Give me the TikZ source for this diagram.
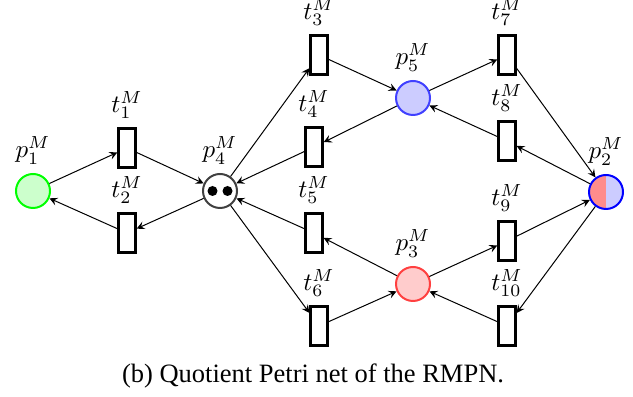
\documentclass[tikz,border=0pt]{standalone}
\usepackage{fontspec}
\newfontfamily\capfont{Liberation Serif}
\usetikzlibrary{arrows}
\begin{document}
\begin{tikzpicture}[x=0.4pt,y=-0.4pt,>=stealth,
	place/.style={circle,draw,line width=0.8pt,inner sep=0pt,minimum size=13.6pt},
	trans/.style={rectangle,draw=black,line width=0.9pt,fill=white,inner sep=0pt,minimum width=6.8pt,minimum height=15.6pt},
	arc/.style={black,thin,->}]
			\useasboundingbox (0,0) rectangle (633,397);
			% places
			\node[place,draw=green,fill=green!20,label=above:{$p_{1}^{M}$}](p1) at (33,191){};
			\node[place,draw=blue,fill=blue!20,label=above:{$p_{2}^{M}$},
				path picture={\fill[red!45] (path picture bounding box.south west) rectangle (path picture bounding box.north);}](p2) at (606,192){};
			\node[place,draw=red!75,fill=red!20,label=above:{$p_{3}^{M}$}](p3) at (413,284){};
			\node[place,draw=black!75,fill=white,label=above:{$p_{4}^{M}$}](p4) at (220,191){};
			\node[place,draw=blue!75,fill=blue!20,label=above:{$p_{5}^{M}$}](p5) at (413,98){};
			\fill[black] ([xshift=-3pt]p4.center) circle (2pt);
			\fill[black] ([xshift=3pt]p4.center) circle (2pt);
			% transitions
			\node[trans,label=above:{$t_{1}^{M}$}](t1) at (127,148){};
			\node[trans,label=above:{$t_{2}^{M}$}](t2) at (127,233){};
			\node[trans,label=above:{$t_{3}^{M}$}](t3) at (319,55){};
			\node[trans,label=above:{$t_{4}^{M}$}](t4) at (314,147){};
			\node[trans,label=above:{$t_{5}^{M}$}](t5) at (314,233){};
			\node[trans,label=above:{$t_{6}^{M}$}](t6) at (319,326){};
			\node[trans,label=above:{$t_{7}^{M}$}](t7) at (507,55){};
			\node[trans,label=above:{$t_{8}^{M}$}](t8) at (507,141){};
			\node[trans,label=above:{$t_{9}^{M}$}](t9) at (507,241){};
			\node[trans,label=above:{$t_{10}^{M}$}](t10) at (507,326){};
			% arcs
			\draw[arc](p1)--(t1);
			\draw[arc](t1)--(p4);
			\draw[arc](p4)--(t2);
			\draw[arc](t2)--(p1);
			\draw[arc](p4)--(t3);
			\draw[arc](t3)--(p5);
			\draw[arc](p5)--(t4);
			\draw[arc](t4)--(p4);
			\draw[arc](t5)--(p4);
			\draw[arc](p3)--(t5);
			\draw[arc](p4)--(t6);
			\draw[arc](t6)--(p3);
			\draw[arc](p5)--(t7);
			\draw[arc](t7)--(p2);
			\draw[arc](p2)--(t8);
			\draw[arc](t8)--(p5);
			\draw[arc](p3)--(t9);
			\draw[arc](t9)--(p2);
			\draw[arc](p2)--(t10);
			\draw[arc](t10)--(p3);
			% caption
			\node[anchor=base,font=\capfont\fontsize{10.6}{13}\selectfont](cap) at (313,383){(b) Quotient Petri net of the RMPN.};
		\end{tikzpicture}
\end{document}
